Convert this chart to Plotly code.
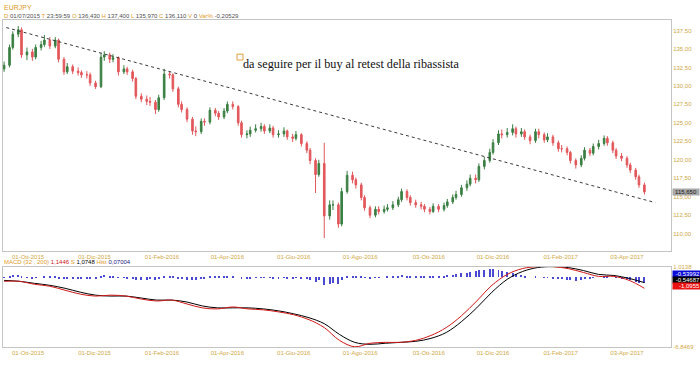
import plotly.graph_objects as go
import pandas as pd

# ---------------- data ----------------
closes = [
    132.8, 135.2, 137.0, 137.6, 134.2, 134.6, 133.9, 135.2, 135.6, 136.2,
    135.4, 136.2, 133.6, 131.9, 132.6, 132.0, 131.8, 131.5, 131.5, 130.4,
    129.9, 133.9, 134.2, 133.6, 133.8, 131.9, 132.3, 131.9, 131.0, 128.6,
    128.2, 127.9, 127.8, 126.8, 128.4, 131.6, 131.5, 129.6, 127.5, 126.8,
    125.5, 123.9, 123.8, 125.2, 125.1, 126.7, 126.3, 125.8, 126.6, 127.5,
    127.2, 125.0, 123.4, 123.5, 124.0, 124.2, 124.5, 123.9, 124.3, 123.4,
    123.5, 123.9, 123.1, 122.9, 123.4, 122.2, 121.3, 119.9, 118.0, 119.5,
    112.4, 113.9, 113.9, 111.3, 115.7, 117.9, 117.3, 116.6, 114.9, 113.5,
    112.5, 113.3, 113.0, 113.3, 113.5, 113.9, 114.6, 115.7, 114.9, 114.2,
    113.9, 113.7, 113.3, 113.0, 113.7, 113.3, 113.8, 114.3, 114.9, 115.3,
    116.2, 116.7, 117.5, 117.3, 119.1, 119.9, 121.0, 122.3, 123.5, 123.4,
    123.7, 124.2, 123.5, 123.8, 123.1, 122.6, 123.8, 123.4, 122.7, 123.1,
    122.3, 121.5, 121.5, 121.0, 119.9, 119.3, 120.2, 121.3, 120.9, 121.8,
    122.2, 122.9, 122.3, 121.3, 120.5, 120.2, 119.3, 118.6, 117.7, 116.6,
    115.65,
]
opens = [
    132.3, 132.8, 135.2, 137.0, 137.6, 134.2, 134.6, 133.9, 135.2, 135.6,
    136.2, 135.4, 136.2, 133.6, 131.9, 132.6, 132.0, 131.8, 131.5, 131.5,
    130.4, 129.9, 133.9, 134.2, 133.6, 133.8, 131.9, 132.3, 131.9, 131.0,
    128.6, 128.2, 127.9, 127.8, 126.8, 128.4, 131.6, 131.5, 129.6, 127.5,
    126.8, 125.5, 123.9, 123.8, 125.2, 125.1, 126.7, 126.3, 125.8, 126.6,
    127.5, 127.2, 125.0, 123.4, 123.5, 124.0, 124.2, 124.5, 123.9, 124.3,
    123.4, 123.5, 123.9, 123.1, 122.9, 123.4, 122.2, 121.3, 119.9, 118.0,
    119.5, 112.4, 113.9, 113.9, 111.3, 115.7, 117.9, 117.3, 116.6, 114.9,
    113.5, 112.5, 113.3, 113.0, 113.3, 113.5, 113.9, 114.6, 115.7, 114.9,
    114.2, 113.9, 113.7, 113.3, 113.0, 113.7, 113.3, 113.8, 114.3, 114.9,
    115.3, 116.2, 116.7, 117.5, 117.3, 119.1, 119.9, 121.0, 122.3, 123.5,
    123.4, 123.7, 124.2, 123.5, 123.8, 123.1, 122.6, 123.8, 123.4, 122.7,
    123.1, 122.3, 121.5, 121.5, 121.0, 119.9, 119.3, 120.2, 121.3, 120.9,
    121.8, 122.2, 122.9, 122.3, 121.3, 120.5, 120.2, 119.3, 118.6, 117.7,
    116.6,
]
highs = [
    133.3, 135.6, 137.4, 138.1, 137.9, 135.2, 135.0, 135.6, 136.1, 136.9,
    136.6, 136.6, 136.4, 133.9, 133.1, 132.9, 132.5, 132.1, 132.0, 131.8,
    130.7, 134.5, 134.7, 134.5, 134.3, 134.0, 132.8, 132.6, 132.2, 131.2,
    129.0, 128.7, 128.5, 128.1, 128.8, 132.3, 132.0, 131.7, 129.9, 127.9,
    127.1, 125.8, 124.5, 125.6, 125.6, 127.1, 127.0, 126.6, 127.0, 127.9,
    127.9, 127.4, 125.3, 124.0, 124.5, 124.8, 125.0, 124.8, 124.8, 124.6,
    124.0, 124.4, 124.1, 123.5, 123.9, 123.6, 122.5, 121.6, 120.2, 120.0,
    122.3, 114.5, 114.5, 114.2, 116.2, 118.5, 118.4, 117.6, 116.9, 115.2,
    113.8, 113.7, 113.7, 113.8, 114.0, 114.4, 115.0, 116.1, 116.0, 115.2,
    114.6, 114.3, 114.0, 113.6, 114.1, 114.0, 114.2, 114.7, 115.3, 115.8,
    116.6, 117.2, 118.0, 118.0, 119.5, 120.4, 121.5, 122.8, 124.0, 124.1,
    124.3, 124.8, 124.5, 124.3, 124.1, 123.4, 124.2, 124.2, 123.7, 123.6,
    123.4, 122.6, 122.0, 121.8, 121.2, 120.2, 120.6, 121.7, 121.6, 122.2,
    122.7, 123.3, 123.2, 122.6, 121.6, 120.9, 120.5, 119.6, 118.9, 118.0,
    116.9,
]
lows = [
    131.9, 132.5, 134.9, 136.6, 133.8, 133.5, 133.4, 133.6, 134.8, 135.3,
    135.0, 135.1, 133.2, 131.5, 131.6, 131.6, 131.4, 131.1, 131.0, 130.0,
    129.6, 129.7, 133.4, 133.1, 133.2, 131.4, 131.6, 131.5, 130.6, 128.2,
    127.8, 127.4, 127.3, 126.2, 126.5, 128.1, 131.0, 129.2, 127.1, 126.4,
    125.1, 123.4, 123.2, 123.5, 124.6, 124.8, 125.9, 125.4, 125.5, 126.3,
    126.8, 124.6, 123.0, 122.9, 123.1, 123.7, 123.8, 123.5, 123.6, 123.0,
    123.0, 123.1, 122.7, 122.4, 122.6, 121.8, 120.9, 119.4, 115.5, 117.7,
    109.4, 111.9, 113.2, 110.8, 111.0, 115.4, 116.8, 116.1, 114.5, 113.1,
    112.1, 112.2, 112.6, 112.7, 113.0, 113.2, 113.6, 114.3, 114.5, 113.8,
    113.5, 113.3, 112.9, 112.6, 112.8, 112.9, 113.0, 113.5, 114.0, 114.6,
    115.0, 115.8, 116.4, 116.8, 117.0, 118.7, 119.6, 120.7, 122.0, 122.9,
    123.0, 123.3, 123.0, 123.1, 122.7, 122.1, 122.3, 122.9, 122.3, 122.4,
    121.9, 121.1, 121.0, 120.6, 119.5, 118.8, 119.0, 119.9, 120.5, 120.6,
    121.4, 121.9, 121.9, 120.9, 120.1, 119.8, 118.9, 118.2, 117.3, 116.2,
    115.3,
]
# MACD panel (red = MACD line, black = signal, blue = histogram)
macd_line = [
    -0.42, -0.42, -0.71, -0.90, -1.29, -1.67, -1.86, -1.77, -1.86, -2.15,
    -2.34, -2.25, -2.63, -3.01, -3.11, -2.92, -3.11, -3.20, -3.40, -3.68,
    -4.16, -4.93, -6.18, -6.80, -6.46, -6.37, -6.37, -6.18, -5.70, -4.93,
    -3.78, -2.34, -0.81, 0.25, 0.82, 1.01, 1.01, 0.82, 0.44, 0.06,
    0.06, -0.33, -1.10,
]
signal_line = [
    -0.33, -0.42, -0.62, -0.81, -1.10, -1.48, -1.77, -1.86, -1.86, -2.05,
    -2.25, -2.25, -2.44, -2.82, -3.01, -3.01, -3.01, -3.11, -3.30, -3.59,
    -3.97, -4.55, -5.60, -6.37, -6.56, -6.46, -6.37, -6.27, -5.98, -5.41,
    -4.35, -3.01, -1.48, -0.23, 0.53, 0.92, 1.01, 0.92, 0.63, 0.25,
    0.15, -0.14, -0.55,
]
hist = [
    -0.05, 0.10, 0.20, 0.25, 0.05, -0.05, -0.10, -0.05, 0.00, 0.05,
    0.05, 0.05, -0.10, -0.20, -0.20, -0.15, -0.15, -0.15, -0.10, -0.15,
    -0.20, 0.10, 0.20, 0.15, 0.10, -0.05, -0.05, -0.10, -0.15, -0.25,
    -0.25, -0.25, -0.20, -0.25, -0.10, 0.15, 0.15, 0.05, -0.10, -0.20,
    -0.25, -0.30, -0.30, -0.20, -0.10, 0.05, 0.10, 0.05, 0.10, 0.15,
    0.15, 0.00, -0.15, -0.15, -0.10, -0.05, -0.05, -0.05, -0.05, -0.10,
    -0.10, -0.05, -0.10, -0.10, -0.05, -0.15, -0.20, -0.30, -0.40, -0.30,
    -0.70, -0.60, -0.55, -0.60, -0.30, 0.05, 0.15, 0.15, 0.05, -0.05,
    -0.10, -0.05, -0.05, 0.00, 0.05, 0.10, 0.15, 0.20, 0.15, 0.10,
    0.10, 0.10, 0.05, 0.05, 0.10, 0.10, 0.15, 0.20, 0.25, 0.30,
    0.40, 0.45, 0.55, 0.60, 0.70, 0.75, 0.80, 0.80, 0.75, 0.65,
    0.55, 0.45, 0.30, 0.20, 0.10, 0.00, 0.05, 0.00, -0.05, -0.05,
    -0.10, -0.15, -0.20, -0.25, -0.30, -0.35, -0.30, -0.20, -0.15, -0.05,
    0.00, 0.05, 0.05, 0.00, -0.05, -0.10, -0.20, -0.30, -0.40, -0.50,
    -0.54,
]
trend_dates = ["2015-09-11", "2017-04-29"]
trend_prices = [137.9, 114.2]

tick_dates = ["2015-10-01", "2015-12-01", "2016-02-01", "2016-04-01", "2016-06-01",
              "2016-08-01", "2016-10-03", "2016-12-01", "2017-02-01", "2017-04-03"]
tick_labels = ["01-Ott-2015", "01-Dic-2015", "01-Feb-2016", "01-Apr-2016", "01-Giu-2016",
               "01-Ago-2016", "03-Ott-2016", "01-Dic-2016", "01-Feb-2017", "03-Apr-2017"]
price_ticks = [110.0, 112.5, 115.0, 117.5, 120.0, 122.5, 125.0, 127.5, 130.0, 132.5, 135.0, 137.5]
macd_top, macd_bottom = 1.0138, -6.8469
macd_box_values = ["-0,53992", "-0,54687", "-1,0955"]
header_values = {"D": "01/07/2015", "T": "23:59:59", "O": "136,430", "H": "137,400",
                 "L": "135,970", "C": "136,110", "V": "0", "Var%": "-0,20529"}
note_text = "da seguire per il buy al retest della ribassista"

candle_dates = pd.bdate_range("2015-09-09", periods=len(closes), freq="3B")
macd_dates = pd.bdate_range("2015-09-09", periods=len(macd_line), freq="10B")

# ---------------- figure ----------------
W, H = 700, 365
def px(x):
    return x / W
def py(y):
    return 1 - y / H

GOLD = "#cfa846"
ORANGE = "#e09a2a"
GRAY_TXT = "#505050"
SANS = "Liberation Sans, Arial, sans-serif"

fig = go.Figure()
fig.add_trace(go.Candlestick(
    x=candle_dates, open=opens, high=highs, low=lows, close=closes,
    increasing=dict(line=dict(color="#3b7f43", width=1), fillcolor="#3b7f43"),
    decreasing=dict(line=dict(color="#e2575b", width=1), fillcolor="#e2575b"),
    whiskerwidth=0, xaxis="x", yaxis="y", showlegend=False, hoverinfo="skip",
))
fig.add_trace(go.Scatter(
    x=trend_dates, y=trend_prices, mode="lines",
    line=dict(color="#3a3a3a", width=1, dash="3px,3px"),
    xaxis="x", yaxis="y", showlegend=False, hoverinfo="skip",
))
fig.add_trace(go.Bar(
    x=candle_dates, y=hist, width=0.9 * 86400000,
    marker=dict(color="#4a4ad0", line=dict(width=0)),
    xaxis="x2", yaxis="y2", showlegend=False, hoverinfo="skip",
))
fig.add_trace(go.Scatter(
    x=macd_dates, y=signal_line, mode="lines", line=dict(color="#000000", width=1, shape="spline"),
    xaxis="x2", yaxis="y2", showlegend=False, hoverinfo="skip",
))
fig.add_trace(go.Scatter(
    x=macd_dates, y=macd_line, mode="lines", line=dict(color="#d01818", width=1, shape="spline"),
    xaxis="x2", yaxis="y2", showlegend=False, hoverinfo="skip",
))

xrange_ = ["2015-09-08", "2017-05-13 10:00"]
axis_common = dict(showgrid=False, zeroline=False, showline=True, mirror=True,
                   linecolor="#c4c4c4", linewidth=1, ticks="")
fig.update_layout(
    width=W, height=H, margin=dict(l=0, r=0, t=0, b=0),
    paper_bgcolor="white", plot_bgcolor="white", separators=",.",
    font=dict(family=SANS, size=6, color=GOLD),
    bargap=0,
    xaxis=dict(domain=[px(3), px(671)], range=xrange_, anchor="y", type="date",
               tickvals=tick_dates, ticktext=tick_labels,
               tickfont=dict(size=6, color=GOLD), rangeslider=dict(visible=False), **axis_common),
    yaxis=dict(domain=[py(252), py(17)], range=[107.67, 138.96], side="right", anchor="x",
               tickvals=price_ticks, tickformat=".2f",
               tickfont=dict(size=6, color=GOLD), **axis_common),
    xaxis2=dict(domain=[px(3), px(671)], range=xrange_, anchor="y2", type="date",
                tickvals=tick_dates, ticktext=tick_labels,
                tickfont=dict(size=6, color=GOLD), **axis_common),
    yaxis2=dict(domain=[py(350), py(268)], range=[macd_bottom, macd_top], side="right", anchor="x2",
                tickvals=[macd_top, macd_bottom],
                ticktext=[f"{macd_top:.4f}".replace(".", ","), f"{macd_bottom:.4f}".replace(".", ",")],
                tickfont=dict(size=6, color=GOLD), **axis_common),
)

def lab(k):
    return f"<span style='color:{ORANGE}'>{k}</span>"

header2 = " ".join(f"{lab(k)} {v}" for k, v in header_values.items())
macd_header = (f"{lab('MACD')} {lab('(32 , 200)')} <span style='color:#d01818'>1,1446</span> "
               f"{lab('S')} <span style='color:#000'>1,0748</span> {lab('Hist')} "
               f"<span style='color:#202080'>0,07004</span>")

ann = [
    dict(x=px(2), y=py(4.5), text="EURJPY", font=dict(size=7, color=ORANGE, family=SANS)),
    dict(x=px(2), y=py(13.5), text=header2, font=dict(size=6, color=GRAY_TXT, family=SANS)),
    dict(x=px(2), y=py(263), text=macd_header, font=dict(size=6, color=GRAY_TXT, family=SANS)),
    dict(x=px(241), y=py(62), text=note_text,
         font=dict(size=12.2, color="#111111", family="Liberation Serif, Times New Roman, serif")),
]
for a in ann:
    a.update(xref="paper", yref="paper", xanchor="left", yanchor="middle", showarrow=False)

# last price box
ann.append(dict(xref="paper", yref="y", x=px(672), y=closes[-1], xanchor="left", yanchor="middle",
                text=f"{closes[-1]:.3f}".replace(".", ","), showarrow=False, bgcolor="#a8a8a8",
                font=dict(size=6, color="#1a1a1a", family=SANS), width=26, align="center", borderpad=0))
# MACD value boxes
for val, bg, yy in zip(macd_box_values, ["#0a0ad8", "#000000", "#e81010"], [276, 282, 288]):
    ann.append(dict(xref="paper", yref="paper", x=px(672), y=py(yy), xanchor="left", yanchor="middle",
                    text=val, showarrow=False, bgcolor=bg, font=dict(size=6, color="white", family=SANS),
                    width=27, align="right", borderpad=0))
fig.update_layout(annotations=ann)

# small orange note square
fig.add_shape(type="rect", xref="paper", yref="paper", x0=px(237), x1=px(243), y0=py(58), y1=py(52),
              line=dict(color="#e0a040", width=1), fillcolor="rgba(0,0,0,0)")

fig.write_html("out.html")
